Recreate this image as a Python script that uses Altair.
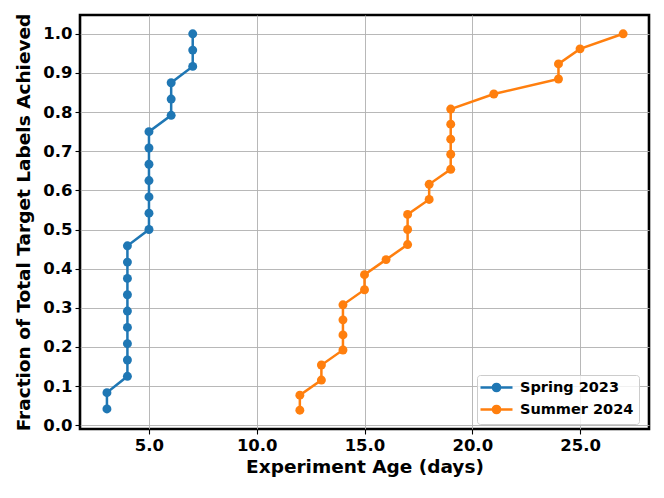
import altair as alt
import pandas as pd

# ---- data ----
spring_label = "Spring 2023"
summer_label = "Summer 2024"

spring_days = [3.05, 3.05, 4, 4, 4, 4, 4, 4, 4, 4, 4, 5, 5, 5, 5, 5, 5, 5, 6.03, 6.03, 6.03, 7.03, 7.03, 7.03]
spring_frac = [0.0417, 0.0833, 0.125, 0.1667, 0.2083, 0.25, 0.2917, 0.3333, 0.375,
               0.4167, 0.4583, 0.5, 0.5417, 0.5833, 0.625, 0.6667, 0.7083, 0.75,
               0.7917, 0.8333, 0.875, 0.9167, 0.9583, 1.0]

summer_days = [12, 12, 13, 13, 14, 14, 14, 14, 15, 15, 16, 17, 17, 17, 18, 18,
               19, 19, 19, 19, 19, 21, 24, 24, 25, 27]
summer_frac = [0.0385, 0.0769, 0.1154, 0.1538, 0.1923, 0.2308, 0.2692, 0.3077,
               0.3462, 0.3846, 0.4231, 0.4615, 0.5, 0.5385, 0.5769, 0.6154,
               0.6538, 0.6923, 0.7308, 0.7692, 0.8077, 0.8462, 0.8846, 0.9231,
               0.9615, 1.0]

x_ticks = [5, 10, 15, 20, 25]
y_ticks = [0.0, 0.1, 0.2, 0.3, 0.4, 0.5, 0.6, 0.7, 0.8, 0.9, 1.0]

series_names = [spring_label, summer_label]
series_colors = ["#1f77b4", "#ff7f0e"]

rows = []
for i, (d, f) in enumerate(zip(spring_days, spring_frac)):
    rows.append({"series": spring_label, "days": d, "frac": f, "k": i})
for i, (d, f) in enumerate(zip(summer_days, summer_frac)):
    rows.append({"series": summer_label, "days": d, "frac": f, "k": i})
df = pd.DataFrame(rows)

FONT = "DejaVu Sans"
legend_path = "M-2.667,0L2.667,0M-0.6,0A0.6,0.6,0,1,1,0.6,0A0.6,0.6,0,1,1,-0.6,0Z"

col_scale = alt.Scale(domain=series_names, range=series_colors)
leg = alt.Legend(title=None)

x_enc = alt.X("days:Q",
              scale=alt.Scale(domain=[1.8, 28.2], nice=False, zero=False),
              axis=alt.Axis(values=x_ticks, format=".1f", title="Experiment Age (days)"))
y_enc = alt.Y("frac:Q",
              scale=alt.Scale(domain=[-0.0096, 1.048], nice=False, zero=False),
              axis=alt.Axis(values=y_ticks, format=".1f",
                            title="Fraction of Total Target Labels Achieved"))

base = alt.Chart(df)

lines = base.mark_line(strokeWidth=2.5).encode(
    x=x_enc, y=y_enc,
    stroke=alt.Stroke("series:N", scale=col_scale, legend=leg),
    detail="series:N",
    order="k:Q",
)

points = base.mark_point(filled=True, size=80, opacity=1, strokeWidth=0).encode(
    x=x_enc, y=y_enc,
    fill=alt.Fill("series:N", scale=col_scale, legend=leg),
)

chart = alt.layer(lines, points).properties(
    width=569, height=414,
    autosize=alt.AutoSizeParams(type="none"),
    padding={"left": 72, "top": 7, "right": 7, "bottom": 75},
).configure_view(
    stroke="black", strokeWidth=2.6
).configure_axis(
    domain=False,
    labelFont=FONT, labelFontWeight="bold", labelFontSize=16.5, labelColor="black",
    titleFont=FONT, titleFontWeight="bold", titleFontSize=18.5, titleColor="black",
    tickColor="black", tickSize=5, tickWidth=1.1, labelPadding=3,
    gridColor="#b0b0b0", gridWidth=0.9,
).configure_axisX(
    titlePadding=4,
).configure_axisY(
    titlePadding=9,
).configure_legend(
    orient="none", legendX=397, legendY=360,
    symbolType=legend_path, symbolSize=144, symbolStrokeWidth=2.5,
    symbolOffset=7, labelOffset=16, padding=5, rowPadding=3,
    fillColor="rgba(255,255,255,0.8)", strokeColor="#cccccc", cornerRadius=3,
    labelFont=FONT, labelFontWeight="bold", labelFontSize=14.5, labelColor="black",
    symbolOpacity=1,
)

chart.save("out.html", embed_options={"renderer": "svg", "actions": False})
